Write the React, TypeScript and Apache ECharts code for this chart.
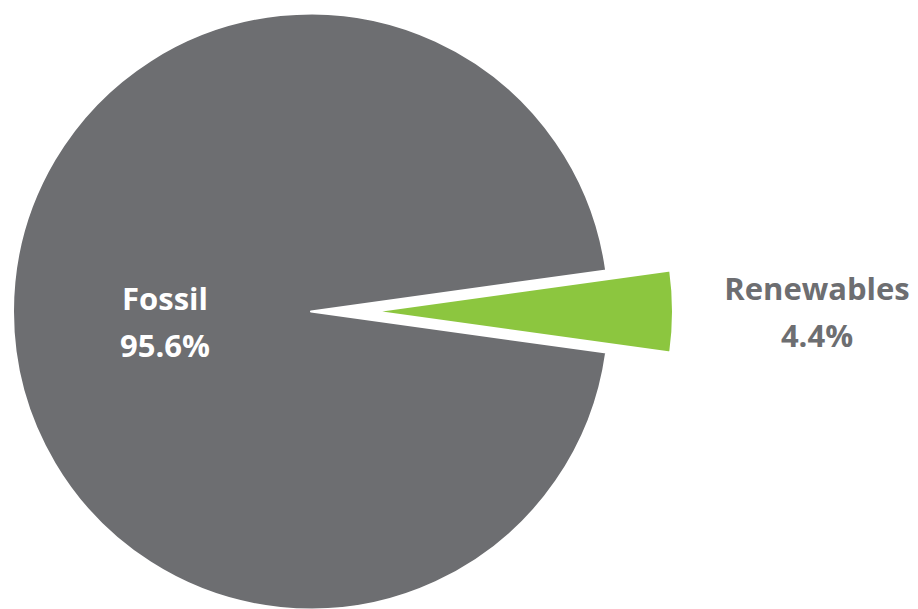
import React, { useEffect, useRef } from "react";
import * as echarts from "echarts";

const categories = ["Renewables", "Fossil"];
const shares = [4.4, 95.6];
const colors = ["#8CC63F", "#6D6E71"];

export default function App() {
  const ref = useRef<HTMLDivElement>(null);
  useEffect(() => {
    if (!ref.current) return;
    const chart = echarts.init(ref.current, undefined, { renderer: "svg" });
    const font = "'Open Sans', 'DejaVu Sans', sans-serif";
    const data = categories.map((name, i) => {
      const isFossil = name === "Fossil";
      return {
        name,
        value: shares[i],
        selected: !isFossil,
        itemStyle: { color: colors[i] },
        label: isFossil
          ? {
              show: true,
              position: "inside",
              offset: [6, 10],
              formatter: "{a|{b}}\n{a|{c}%}",
              rich: {
                a: {
                  color: "#ffffff",
                  fontFamily: font,
                  fontWeight: "bold",
                  fontSize: 31,
                  lineHeight: 47,
                  align: "center",
                },
              },
            }
          : {
              show: true,
              position: "outside",
              distanceToLabelLine: 5,
              formatter: "{a|{b}}\n{a|{c}%}",
              rich: {
                a: {
                  color: "#6D6E71",
                  fontFamily: font,
                  fontWeight: "bold",
                  fontSize: 31,
                  lineHeight: 47,
                  width: 200,
                  align: "center",
                },
              },
            },
        labelLine: { show: false, length: 15, length2: 24 },
      };
    });
    chart.setOption({
      animation: false,
      backgroundColor: "#ffffff",
      series: [
        {
          type: "pie",
          center: [311, 311.5],
          radius: 298,
          startAngle: (360 * shares[0]) / 100 / 2,
          clockwise: true,
          selectedMode: "single",
          selectedOffset: 64,
          avoidLabelOverlap: false,
          itemStyle: { borderColor: "#ffffff", borderWidth: 2 },
          emphasis: { disabled: true },
          data,
        },
      ],
    });
    return () => chart.dispose();
  }, []);
  return (
    <div
      ref={ref}
      style={{ position: "fixed", left: 0, top: 0, width: 918, height: 609, background: "#fff" }}
    />
  );
}
